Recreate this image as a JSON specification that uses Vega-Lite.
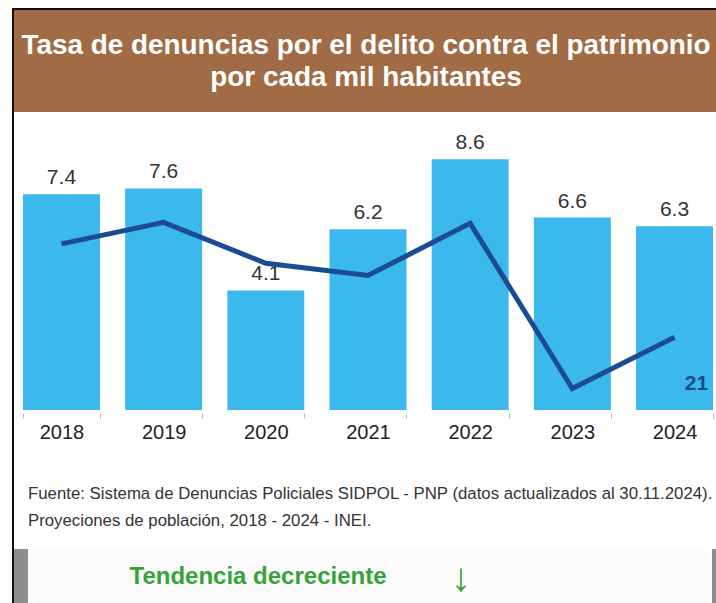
{
  "$schema": "https://vega.github.io/schema/vega-lite/v6.json",
  "background": "white",
  "padding": {"left": 12, "top": 8, "right": 0, "bottom": 0},
  "config": {
    "view": {"stroke": null},
    "font": "Liberation Sans",
    "concat": {"spacing": 0}
  },
  "spacing": 0,
  "hconcat": [
    {
      "width": 2,
      "height": 595,
      "view": {"fill": "#111111", "stroke": null},
      "data": {"values": []},
      "mark": "point"
    },
    {
      "spacing": 0,
      "vconcat": [
        {
          "width": 708,
          "height": 2,
          "view": {"fill": "#111111", "stroke": null},
          "data": {"values": []},
          "mark": "point"
        },
        {
          "width": 708,
          "height": 102,
          "view": {"fill": "#a16c45", "stroke": null},
          "data": {"values": [{"titulo": "Tasa de denuncias por el delito contra el patrimonio"}]},
          "mark": {"type": "text", "fontSize": 27.9, "fontWeight": "bold", "color": "white", "lineHeight": 32, "baseline": "middle", "align": "center", "dy": -15, "dx": -2},
          "encoding": {
            "text": {"value": ["Tasa de denuncias por el delito contra el patrimonio", "por cada mil habitantes"]}
          }
        },
        {
          "width": 708,
          "height": 298,
          "title": {
            "text": ["Fuente: Sistema de Denuncias Policiales SIDPOL - PNP (datos actualizados al 30.11.2024).", "Proyeciones de población, 2018 - 2024 - INEI."],
            "orient": "bottom",
            "anchor": "start",
            "dx": 14,
            "offset": 44,
            "fontSize": 16.8,
            "fontWeight": "normal",
            "color": "#333333",
            "lineHeight": 27,
            "font": "Liberation Sans"
          },
          "data": {"values": [
            {"anio": "2018", "tasa": 7.4, "linea": 47.9},
            {"anio": "2019", "tasa": 7.6, "linea": 54.1},
            {"anio": "2020", "tasa": 4.1, "linea": 42.3},
            {"anio": "2021", "tasa": 6.2, "linea": 38.8},
            {"anio": "2022", "tasa": 8.6, "linea": 53.8},
            {"anio": "2023", "tasa": 6.6, "linea": 6.2},
            {"anio": "2024", "tasa": 6.3, "linea": 21}
          ]},
          "encoding": {
            "x": {
              "field": "anio",
              "type": "nominal",
              "scale": {"paddingInner": 0.247, "paddingOuter": 0.088},
              "axis": {
                "title": null,
                "labelAngle": 0,
                "domain": false,
                "grid": false,
                "ticks": true,
                "tickBand": "extent",
                "tickColor": "#bbbbbb",
                "tickSize": 5,
                "offset": 3,
                "labelPadding": 4,
                "labelFontSize": 20,
                "labelColor": "#222222",
                "labelFont": "Liberation Sans"
              }
            }
          },
          "layer": [
            {
              "mark": {"type": "bar", "color": "#3bb9ed"},
              "encoding": {
                "y": {"field": "tasa", "type": "quantitative", "scale": {"domain": [0, 10.22]}, "axis": null}
              }
            },
            {
              "mark": {"type": "text", "baseline": "alphabetic", "dy": -10, "fontSize": 21, "color": "#333333"},
              "encoding": {
                "y": {"field": "tasa", "type": "quantitative", "scale": {"domain": [0, 10.22]}, "axis": null},
                "text": {"field": "tasa", "type": "quantitative", "format": ".1f"}
              }
            },
            {
              "layer": [
                {
                  "mark": {"type": "line", "color": "#1b4c92", "strokeWidth": 5},
                  "encoding": {
                    "y": {"field": "linea", "type": "quantitative", "scale": {"domain": [0, 85.9]}, "axis": null}
                  }
                },
                {
                  "transform": [{"filter": "datum.anio === '2024'"}],
                  "mark": {"type": "text", "fontSize": 21, "fontWeight": "bold", "color": "#1b4c92", "dx": 22, "dy": 47, "baseline": "middle"},
                  "encoding": {
                    "y": {"field": "linea", "type": "quantitative", "scale": {"domain": [0, 85.9]}, "axis": null},
                    "text": {"field": "linea", "type": "quantitative", "format": ".0f"}
                  }
                }
              ]
            }
          ],
          "resolve": {"scale": {"y": "independent"}}
        },
        {
          "width": 708,
          "height": 19,
          "data": {"values": []},
          "mark": "point"
        },
        {
          "spacing": 0,
          "hconcat": [
            {
              "width": 14,
              "height": 56,
              "view": {"fill": "#8f8f8f", "stroke": null},
              "data": {"values": []},
              "mark": "point"
            },
            {
              "width": 684,
              "height": 56,
              "view": {"fill": "#fbfbfb", "stroke": null, "cornerRadius": 14},
              "data": {"values": [{"texto": "Tendencia decreciente", "flecha": "↓"}]},
              "layer": [
                {
                  "mark": {"type": "text", "fontSize": 24, "fontWeight": "bold", "color": "#36a339", "dx": -112, "baseline": "middle"},
                  "encoding": {"text": {"field": "texto", "type": "nominal"}}
                },
                {
                  "mark": {"type": "text", "fontSize": 40, "fontWeight": "bold", "color": "#36a339", "dx": 91, "baseline": "middle", "dy": 2},
                  "encoding": {"text": {"field": "flecha", "type": "nominal"}}
                }
              ]
            },
            {
              "width": 20,
              "height": 56,
              "view": {"fill": "#8f8f8f", "stroke": null},
              "data": {"values": []},
              "mark": "point"
            }
          ]
        }
      ]
    }
  ]
}
